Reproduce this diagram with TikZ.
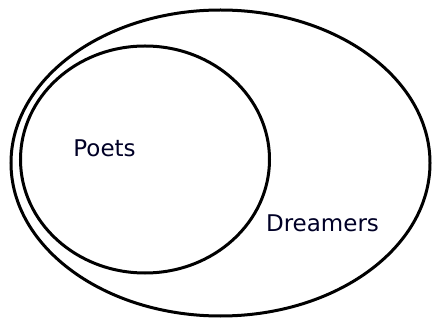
\documentclass[tikz,border=0pt]{standalone}
\usepackage{fontspec}
\setmainfont{DejaVu Sans}
\usetikzlibrary{shapes.geometric}
\begin{document}
\begin{tikzpicture}[x=1pt,y=-1pt,
  setring/.style={draw=black,line width=3pt,ellipse,inner sep=0pt,outer sep=0pt},
  lbl/.style={font=\fontsize{23}{26}\selectfont,text=black!85!blue,anchor=base,inner sep=0pt}]
\useasboundingbox (0,0) rectangle (433,320);
\node[setring,minimum width=419pt,minimum height=306pt] (dreamers) at (220.5,163) {};
\node[setring,minimum width=249pt,minimum height=227pt] (poets) at (145,159.5) {};
\node[lbl] (poetslbl) at (104.5,157) {Poets};
\node[lbl] (dreamerslbl) at (322.5,232) {Dreamers};
\end{tikzpicture}
\end{document}
